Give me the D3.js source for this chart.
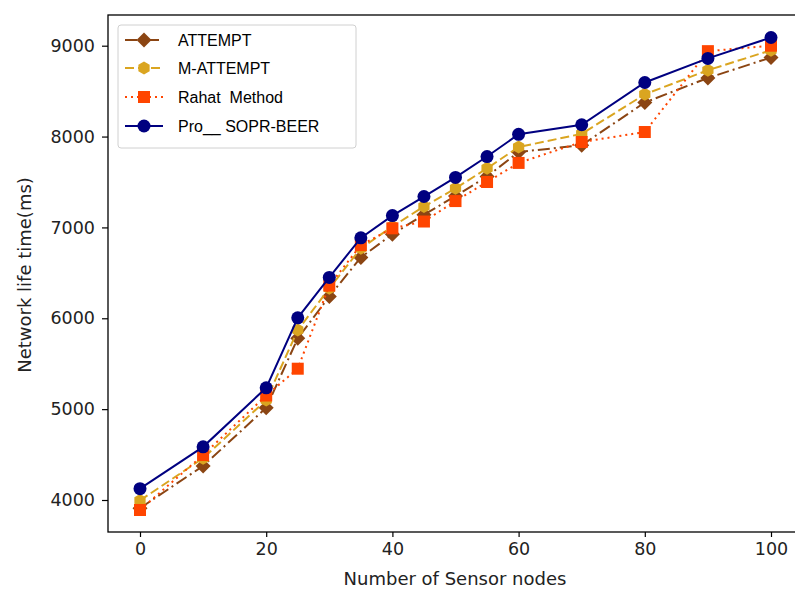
<!DOCTYPE html>
<html>
<head>
<meta charset="utf-8">
<script src="https://cdnjs.cloudflare.com/ajax/libs/d3/7.8.5/d3.min.js"></script>
<style>
  body { margin: 0; background: #fff; }
  .chart svg { display: block; }
  .axes text { font-family: "DejaVu Sans", sans-serif; font-size: 17.5px; fill: #222; }
</style>
</head>
<body>
<div class="chart"></div>
<script>
// DATA
var nodes = [0, 10, 20, 25, 30, 35, 40, 45, 50, 55, 60, 70, 80, 90, 100];
var attempt  = [3910, 4375, 5015, 5780, 6240, 6670, 6925, 7140, 7345, 7560, 7830, 7905, 8375, 8645, 8870];
var mAttempt = [3995, 4460, 5100, 5870, 6330, 6770, 7010, 7230, 7430, 7650, 7885, 8030, 8465, 8730, 8950];
var rahat    = [3890, 4495, 5150, 5445, 6360, 6805, 6990, 7065, 7290, 7500, 7710, 7940, 8050, 8940, 9000];
var proSopr  = [4125, 4585, 5235, 6005, 6450, 6885, 7130, 7340, 7550, 7780, 8025, 8130, 8595, 8860, 9090];
var seriesNames = ['ATTEMPT', 'M-ATTEMPT', 'Rahat  Method', 'Pro__ SOPR-BEER'];
var xTicks = [0, 20, 40, 60, 80, 100];
var yTicks = [4000, 5000, 6000, 7000, 8000, 9000];

var width = 795, height = 590;
var plot = {left: 108, top: 15, bottom: 532};

var svg = d3.select('.chart')
  .append('svg')
  .attr('width', width)
  .attr('height', height);

var xScale = d3.scaleLinear().domain([0, 100]).range([140, 771]);
var yScale = d3.scaleLinear().domain([4000, 9000]).range([500, 45.7]);

var series = [
  {name: seriesNames[0], values: attempt,  color: '#8B4513', dash: '12,4,2,4', marker: 'diamond'},
  {name: seriesNames[1], values: mAttempt, color: '#DAA520', dash: '9,4',      marker: 'hexagon'},
  {name: seriesNames[2], values: rahat,    color: '#FF4500', dash: '2,4',      marker: 'square'},
  {name: seriesNames[3], values: proSopr,  color: '#000080', dash: null,       marker: 'circle'}
];

// marker shapes
function drawMarker(g, type, x, y, color) {
  if (type === 'circle') {
    g.append('circle').attr('cx', x).attr('cy', y).attr('r', 6.5).attr('fill', color);
  } else if (type === 'square') {
    g.append('rect').attr('x', x - 6).attr('y', y - 6).attr('width', 12).attr('height', 12).attr('fill', color);
  } else if (type === 'diamond') {
    var s = 7.5;
    g.append('path').attr('d', 'M' + x + ',' + (y - s) + 'L' + (x + s) + ',' + y + 'L' + x + ',' + (y + s) + 'L' + (x - s) + ',' + y + 'Z')
      .attr('fill', color);
  } else if (type === 'hexagon') {
    var r = 6.5, pts = [];
    for (var k = 0; k < 6; k++) {
      var a = Math.PI / 6 + k * Math.PI / 3;
      pts.push([x + r * Math.cos(a), y + r * Math.sin(a)]);
    }
    g.append('path').attr('d', 'M' + pts.join('L') + 'Z').attr('fill', color);
  }
}

var line = d3.line()
  .x((d) => xScale(d[0]))
  .y((d) => yScale(d[1]));

// LINES + MARKERS
series.forEach(function(s) {
  var pts = nodes.map((n, i) => [n, s.values[i]]);
  var g = svg.append('g');
  g.append('path')
    .datum(pts)
    .attr('d', line)
    .attr('fill', 'none')
    .attr('stroke', s.color)
    .attr('stroke-width', 2)
    .attr('stroke-dasharray', s.dash);
  pts.forEach(function(p) {
    drawMarker(g, s.marker, xScale(p[0]), yScale(p[1]), s.color);
  });
});

// SPINES
svg.append('rect')
  .attr('x', plot.left)
  .attr('y', plot.top)
  .attr('width', xScale(105) - plot.left)
  .attr('height', plot.bottom - plot.top)
  .attr('fill', 'none')
  .attr('stroke', '#000')
  .attr('stroke-width', 1.3);

// AXES
var xAxis = d3.axisBottom(xScale).tickValues(xTicks).tickSize(5).tickPadding(6);
var yAxis = d3.axisLeft(yScale).tickValues(yTicks).tickFormat(d3.format('d')).tickSize(6).tickPadding(7);

var gx = svg.append('g')
  .attr('class', 'axes')
  .attr('transform', 'translate(0, ' + plot.bottom + ')')
  .call(xAxis);
var gy = svg.append('g')
  .attr('class', 'axes')
  .attr('transform', 'translate(' + plot.left + ', 0)')
  .call(yAxis);
[gx, gy].forEach(function(g) {
  g.select('.domain').remove();
  g.selectAll('text').attr('font-size', null).attr('font-family', null);
  g.selectAll('line').attr('stroke', '#000').attr('stroke-width', 1.2);
});

// AXIS LABELS
svg.append('text')
  .attr('x', 455)
  .attr('y', 585)
  .attr('text-anchor', 'middle')
  .style('font-family', 'DejaVu Sans, sans-serif')
  .style('font-size', '18px')
  .attr('fill', '#222')
  .text('Number of Sensor nodes');

svg.append('text')
  .attr('transform', 'translate(31, 275) rotate(-90)')
  .attr('text-anchor', 'middle')
  .style('font-family', 'DejaVu Sans, sans-serif')
  .style('font-size', '18px')
  .attr('fill', '#222')
  .text('Network life time(ms)');

// LEGEND
var legend = svg.append('g');
legend.append('rect')
  .attr('x', 118).attr('y', 25)
  .attr('width', 238).attr('height', 123)
  .attr('rx', 3)
  .attr('fill', '#fff')
  .attr('stroke', '#d0d0d0');
var rowY = [40, 68, 97, 126];
series.forEach(function(s, i) {
  var y = rowY[i];
  legend.append('line')
    .attr('x1', 125).attr('x2', 163)
    .attr('y1', y).attr('y2', y)
    .attr('stroke', s.color)
    .attr('stroke-width', 2)
    .attr('stroke-dasharray', s.dash);
  drawMarker(legend, s.marker, 144, y, s.color);
  legend.append('text')
    .attr('x', 178)
    .attr('y', y + 6)
    .style('font-family', 'Liberation Sans, Arial, sans-serif')
    .style('font-size', '16px')
    .style('white-space', 'pre')
    .attr('fill', '#000')
    .text(s.name);
});
</script>
</body>
</html>
